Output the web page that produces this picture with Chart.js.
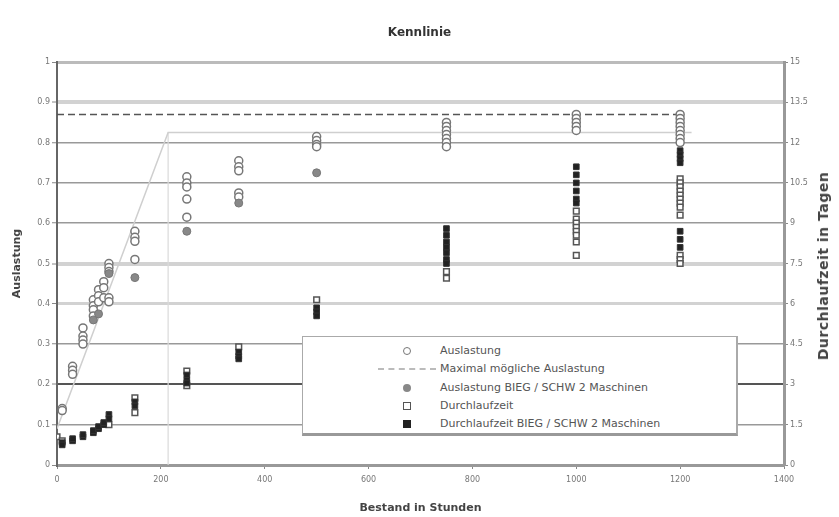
<!DOCTYPE html>
<html lang="de">
<head>
<meta charset="UTF-8" />
<title>Kennlinie</title>
<script src="https://cdn.jsdelivr.net/npm/chart.js"></script>
<style>
  body{margin:0;background:#fff;}
  #wrap{position:relative;width:839px;height:517px;}
  #legend{position:absolute;left:302px;top:336px;width:433px;height:96px;background:#fff;border:1px solid #aaa;border-right:2px solid #aaa;border-bottom:3px solid #999;font:11px 'DejaVu Sans',sans-serif;color:#555;}
  .row{position:absolute;left:0;right:0;height:18px;line-height:18px;}
  .row span.t{position:absolute;left:137px;top:0;white-space:nowrap;}
  .sym{position:absolute;}
  .oc{left:100px;top:5px;width:6px;height:6px;border:1.5px solid #777;border-radius:50%;background:#fff;}
  .fc{left:100px;top:5px;width:8px;height:8px;border-radius:50%;background:#888;}
  .os{left:100px;top:5px;width:6px;height:6px;border:1.5px solid #555;background:#fff;}
  .fs{left:100px;top:5px;width:8px;height:8px;background:#222;}
  .dl{left:75px;top:8px;width:58px;height:0;border-top:2px dashed #bbb;}
  #ytitle2{position:absolute;left:823px;top:266px;transform:translate(-50%,-50%) rotate(-90deg);font:bold 14px 'DejaVu Sans',sans-serif;letter-spacing:0.5px;color:#444;white-space:nowrap;}
</style>
</head>
<body>
<div id="wrap">
  <canvas id="kennlinie" width="839" height="517"></canvas>
  <div id="ytitle2">Durchlaufzeit in Tagen</div>
  <div id="legend">
    <div class="row" style="top:5px"><span class="sym oc"></span><span class="t">Auslastung</span></div>
    <div class="row" style="top:23px"><span class="sym dl"></span><span class="t">Maximal mögliche Auslastung</span></div>
    <div class="row" style="top:42px"><span class="sym fc"></span><span class="t">Auslastung BIEG / SCHW 2 Maschinen</span></div>
    <div class="row" style="top:60px"><span class="sym os"></span><span class="t">Durchlaufzeit</span></div>
    <div class="row" style="top:78px"><span class="sym fs"></span><span class="t">Durchlaufzeit BIEG / SCHW 2 Maschinen</span></div>
  </div>
</div>
<script>
  // Auslastung (offene Kreise), linke Achse
  const auslastungX=[10,10, 30,30,30, 50,50,50,50, 70,70,70,70, 80,80,80, 90,90,90, 100,100,100,100,100,
    150,150,150,150, 250,250,250,250,250, 350,350,350,350,350, 500,500,500,500,
    750,750,750,750,750,750,750, 1000,1000,1000,1000,1000, 1200,1200,1200,1200,1200,1200,1200,1200];
  const auslastungY=[0.14,0.135, 0.245,0.235,0.225, 0.34,0.32,0.31,0.30, 0.41,0.395,0.385,0.37, 0.435,0.42,0.405, 0.455,0.44,0.415, 0.50,0.49,0.48,0.415,0.405,
    0.58,0.565,0.555,0.51, 0.715,0.70,0.69,0.66,0.615, 0.755,0.74,0.73,0.675,0.665, 0.815,0.805,0.795,0.79,
    0.85,0.84,0.83,0.82,0.81,0.80,0.79, 0.87,0.86,0.85,0.84,0.83, 0.87,0.86,0.85,0.84,0.83,0.82,0.81,0.80];

  // Auslastung BIEG / SCHW 2 Maschinen (gefuellte Kreise)
  const auslastung2X=[70,80,100,150,250,350,500];
  const auslastung2Y=[0.36,0.375,0.475,0.465,0.58,0.65,0.725];

  // Durchlaufzeit in Tagen (offene Quadrate), rechte Achse
  const dlzX=[0,10,100, 150,150, 250,250, 350, 500, 750,750,
    1000,1000,1000,1000,1000,1000,1000,1000,
    1200,1200,1200,1200,1200,1200,1200,1200,1200,1200,1200,1200];
  const dlzY=[1.05,0.9,1.5, 2.5,1.95, 3.5,2.95, 4.4, 6.15, 7.2,6.95,
    9.45,9.15,9.0,8.85,8.7,8.55,8.3,7.8,
    10.65,10.5,10.35,10.2,10.05,9.9,9.75,9.6,9.3,7.8,7.65,7.5];

  // Durchlaufzeit BIEG / SCHW 2 Maschinen (schwarze Quadrate)
  const dlz2X=[10,10, 30,30, 50,50, 70,70, 80,80, 90,90, 100,100, 150,150, 250,250,250, 350,350,350, 500,500,500,
    750,750,750,750,750,750,750, 1000,1000,1000,1000,1000,1000, 1200,1200,1200,1200,1200,1200,1200];
  const dlz2Y=[0.83,0.75, 0.9,0.98, 1.05,1.13, 1.2,1.28, 1.35,1.43, 1.5,1.58, 1.88,1.73, 2.35,2.2, 3.35,3.15,3.05, 4.2,4.05,3.95, 5.85,5.7,5.55,
    8.8,8.55,8.3,8.1,7.9,7.65,7.5, 11.1,10.8,10.5,10.2,9.9,9.75, 11.7,11.55,11.4,11.25,8.7,8.4,8.1];

  // Maximal moegliche Auslastung und ideale Kennlinie
  const maxX=[0,1200], maxY=[0.87,0.87];
  const idealX=[0,214,1222], idealY=[0.09,0.825,0.825];
  const grenzX=[214,214], grenzY=[0,0.825];

  const xTicks=[0,200,400,600,800,1000,1200,1400];
  const pts=(xs,ys)=>xs.map((x,i)=>({x:x,y:ys[i]}));
  const font='DejaVu Sans';

  // Gitterlinien wie im Original: teils hell und breit, teils dunkel
  const gridStyle={'1':['#bbb',3],'0.9':['#d2d2d2',4],'0.5':['#d2d2d2',4],'0.4':['#d2d2d2',3],'0.2':['#555',2],'0':['#999',3]};
  const gs=v=>gridStyle[String(Math.round(v*10)/10)]||['#999',1.5];

  new Chart(document.getElementById('kennlinie'),{
    type:'scatter',
    data:{datasets:[
      {label:'ideal',data:pts(idealX,idealY),showLine:true,borderColor:'#cfcfcf',borderWidth:1.5,pointRadius:0,yAxisID:'y',order:9},
      {label:'grenze',data:pts(grenzX,grenzY),showLine:true,borderColor:'#dadada',borderWidth:1.2,pointRadius:0,yAxisID:'y',order:9},
      {label:'Maximal mögliche Auslastung',data:pts(maxX,maxY),showLine:true,borderColor:'#555',borderWidth:1.5,borderDash:[7,4],pointRadius:0,yAxisID:'y',order:8},
      {label:'Durchlaufzeit',data:pts(dlzX,dlzY),pointStyle:'rect',pointRadius:4,borderColor:'#555',borderWidth:1.5,backgroundColor:'#fff',yAxisID:'y2',order:4},
      {label:'Durchlaufzeit BIEG / SCHW 2 Maschinen',data:pts(dlz2X,dlz2Y),pointStyle:'rect',pointRadius:4,borderColor:'#333',borderWidth:1,backgroundColor:'#222',yAxisID:'y2',order:3},
      {label:'Auslastung',data:pts(auslastungX,auslastungY),pointStyle:'circle',pointRadius:4,borderColor:'#777',borderWidth:1.5,backgroundColor:'#fff',yAxisID:'y',order:2},
      {label:'Auslastung BIEG / SCHW 2 Maschinen',data:pts(auslastung2X,auslastung2Y),pointStyle:'circle',pointRadius:4,borderColor:'#777',borderWidth:1,backgroundColor:'#888',yAxisID:'y',order:1}
    ]},
    options:{
      responsive:false,animation:false,
      layout:{padding:0},
      plugins:{
        legend:{display:false},tooltip:{enabled:false},
        title:{display:true,text:'Kennlinie',color:'#333',font:{family:font,size:12,weight:'bold'},padding:{top:26,bottom:21.6}}
      },
      scales:{
        x:{type:'linear',min:0,max:1400,
          afterBuildTicks:s=>{s.ticks=xTicks.map(v=>({value:v}));},
          afterFit:s=>{s.height=52;},
          grid:{drawOnChartArea:false,drawTicks:true,tickLength:4,color:'#888'},
          border:{color:'#999',width:3},
          ticks:{font:{family:font,size:8},color:'#777',padding:6,maxRotation:0,callback:v=>String(v)},
          title:{display:true,text:'Bestand in Stunden',color:'#444',font:{family:font,size:11,weight:'bold'},padding:{top:0,bottom:2}}
        },
        y:{position:'left',min:0,max:1,
          afterFit:s=>{s.width=57;},
          ticks:{stepSize:0.1,font:{family:font,size:8},color:'#777',padding:2,callback:v=>String(Math.round(v*10)/10)},
          grid:{tickLength:5,color:c=>gs(c.tick.value)[0],lineWidth:c=>gs(c.tick.value)[1],tickColor:'#888',tickWidth:1},
          border:{color:'#666',width:2},
          title:{display:true,text:'Auslastung',color:'#444',font:{family:font,size:11,weight:'bold'},padding:{top:11,bottom:0}}
        },
        y2:{position:'right',min:0,max:15,
          afterFit:s=>{s.width=55;},
          ticks:{stepSize:1.5,font:{family:font,size:8},color:'#777',padding:2,callback:v=>String(Math.round(v*10)/10)},
          grid:{drawOnChartArea:false,tickLength:4,color:'#888'},
          border:{color:'#999',width:3}
        }
      }
    }
  });
</script>
</body>
</html>
